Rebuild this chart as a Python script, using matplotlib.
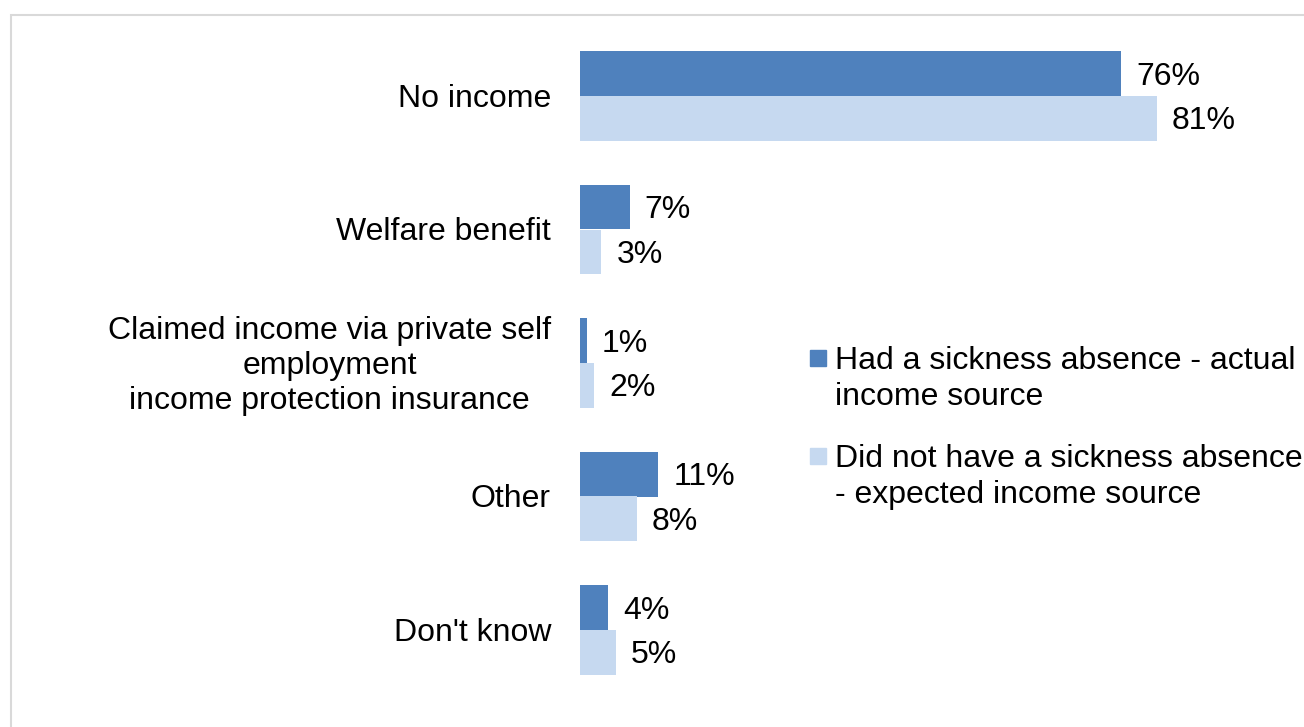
import matplotlib.pyplot as plt
from matplotlib.patches import Rectangle

plt.rcParams['font.family'] = ['Liberation Sans', 'DejaVu Sans']

categories = [
    "No income",
    "Welfare benefit",
    "Claimed income via private self\nemployment\nincome protection insurance",
    "Other",
    "Don't know",
]
actual = [76, 7, 1, 11, 4]
expected = [81, 3, 2, 8, 5]
series_names = [
    "Had a sickness absence - actual\nincome source",
    "Did not have a sickness absence\n- expected income source",
]
colors = ["#4F81BD", "#C6D9F0"]

W, H = 1304, 727
fig = plt.figure(figsize=(W / 100, H / 100), dpi=100)

# light grey chart border (runs off the right and bottom edges)
fig.patches.append(Rectangle((11 / W, -0.1), 1.2, 1 - 15 / H + 0.1,
                             transform=fig.transFigure, fill=False,
                             edgecolor="#D9D9D9", linewidth=1.5))

ax = fig.add_axes([580 / W, 0, (W - 580) / W, 1])
px = 7.12  # pixels per percent
ax.set_xlim(0, (W - 580) / px)
ax.set_ylim((H - 96) / 133.5, -96 / 133.5)
ax.axis("off")

bh = 0.337
fs = 23
dy = 3 / 133.5  # small nudge down for text
ys = list(range(len(categories)))
ax.barh([y - bh / 2 for y in ys], actual, height=bh, color=colors[0])
ax.barh([y + bh / 2 for y in ys], expected, height=bh, color=colors[1])

for y, a, e in zip(ys, actual, expected):
    ax.text(a + 2.1, y - bh / 2 + dy, f"{a}%", va="center", ha="left", fontsize=fs)
    ax.text(e + 2.1, y + bh / 2 + dy, f"{e}%", va="center", ha="left", fontsize=fs)

for y, c in zip(ys, categories):
    ax.text(-29 / px, y + dy, c, ha="right", va="center", multialignment="center",
            fontsize=fs, linespacing=1.22)

# legend drawn by hand so the swatch sits on the first line of each entry
leg_tops = [346, 444]
for name, col, top in zip(series_names, colors, leg_tops):
    fig.patches.append(Rectangle((810 / W, 1 - (top + 20) / H), 16 / W, 16 / H,
                                 transform=fig.transFigure, color=col))
    fig.text(835 / W, 1 - top / H, name, ha="left", va="top",
             fontsize=fs, linespacing=1.25)

fig.savefig("out.png", dpi=100)
